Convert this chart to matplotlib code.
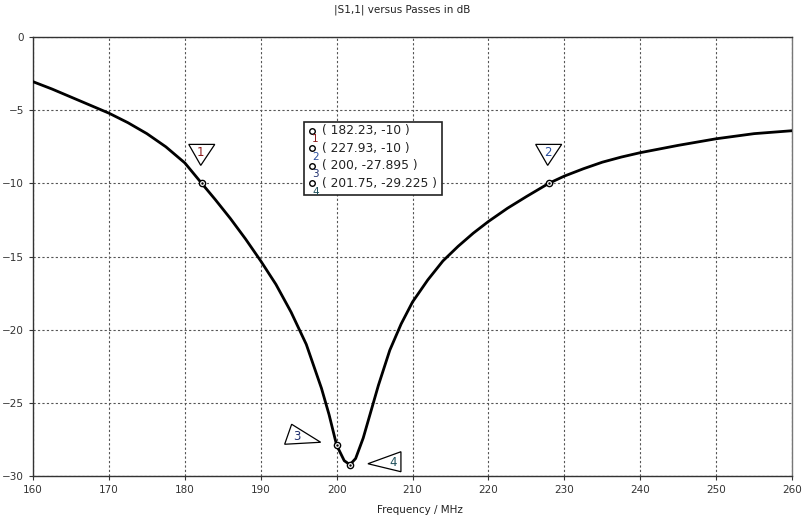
import matplotlib
matplotlib.use("Agg")
import matplotlib.pyplot as plt
import matplotlib.transforms as mtransforms
from matplotlib.patches import Polygon

# S11 sweep, MHz / dB
freq = [160, 162.5, 165, 167.5, 170, 172.5, 175, 177.5, 180, 182.23, 184, 186,
        188, 190, 192, 194, 196, 198, 199, 200, 201, 201.75, 202.5, 203.5,
        204.5, 205.5, 207, 208.5, 210, 212, 214, 216, 218, 220, 222.5, 225,
        227.93, 230, 232.5, 235, 237.5, 240, 245, 250, 255, 260]
s11 = [-3.05, -3.55, -4.1, -4.65, -5.2, -5.85, -6.6, -7.5, -8.6, -10, -11.1,
       -12.4, -13.8, -15.3, -16.9, -18.8, -21.0, -24.0, -25.8, -27.895, -28.95,
       -29.225, -28.8, -27.4, -25.6, -23.8, -21.4, -19.6, -18.1, -16.6, -15.3,
       -14.3, -13.4, -12.6, -11.7, -10.9, -10, -9.5, -9.0, -8.55, -8.2, -7.9,
       -7.4, -6.95, -6.6, -6.4]

# marker readouts
mk_f = [182.23, 227.93, 200, 201.75]
mk_db = [-10, -10, -27.895, -29.225]
mk_names = ["1", "2", "3", "4"]
mk_colors = ["#8b1a1a", "#2a4f9e", "#1f2f6e", "#1e4f5a"]

# triangle outlines around each marker (pixel offsets, y up)
tri_shapes = [
    [(-13, 39), (13, 39), (-1, 18)],
    [(-13, 39), (13, 39), (-1, 18)],
    [(-52, 1), (-45, 21), (-16, 3)],
    [(18, 1), (51, 13), (51, -7)],
]
tri_labels = [(-1, 31), (-1, 31), (-40, 9), (43, 2)]

fig = plt.figure(figsize=(8.05, 5.22), dpi=100)
ax = fig.add_axes([0.041, 0.088, 0.943, 0.841])

ax.plot(freq, s11, color="black", lw=2.0, zorder=3, solid_joinstyle="round")
ax.plot(mk_f, mk_db, "o", ms=4.5, mfc="white", mec="black", mew=1.0, zorder=4)
ax.plot(mk_f, mk_db, ".", ms=1.5, color="black", zorder=5)

ax.set_xlim(160, 260)
ax.set_ylim(-30, 0)
ax.set_xticks(range(160, 261, 10))
ax.set_yticks(range(-30, 1, 5))
ax.grid(True, color="#555555", linestyle=(0, (2, 2)), lw=0.8)
ax.tick_params(labelsize=7.5, length=3, width=0.8, colors="#333333")
for sp in ax.spines.values():
    sp.set_color("#333333")
    sp.set_linewidth(1.0)
ax.spines["right"].set_color("#777777")

for i in range(4):
    tr = fig.dpi_scale_trans + mtransforms.ScaledTranslation(mk_f[i], mk_db[i], ax.transData)
    verts = [(x / 100, y / 100) for x, y in tri_shapes[i]]
    ax.add_patch(Polygon(verts, closed=True, fc="white", ec="black", lw=0.9,
                         transform=tr, zorder=6, clip_on=False))
    lx, ly = tri_labels[i]
    ax.text(lx / 100, ly / 100, mk_names[i], transform=tr, fontsize=8.5,
            color=mk_colors[i], ha="center", va="center", zorder=7)

# readout box
box = plt.Rectangle((0.357, 0.640), 0.182, 0.166, transform=ax.transAxes,
                    fc="white", ec="#222222", lw=1.2, zorder=8)
ax.add_patch(box)
rows = [0.787, 0.747, 0.707, 0.667]
for i in range(4):
    ax.plot([0.368], [rows[i]], "o", ms=4, mfc="white", mec="black", mew=1.0,
            transform=ax.transAxes, zorder=9)
    ax.text(0.372, rows[i] - 0.02, mk_names[i], transform=ax.transAxes,
            fontsize=7.5, color=mk_colors[i], ha="center", va="center", zorder=9)
    ax.text(0.381, rows[i], "( %s, %s )" % (format(mk_f[i], "g"), format(mk_db[i], "g")),
            transform=ax.transAxes, fontsize=8.8, color="#222222",
            ha="left", va="center", zorder=9)

fig.text(0.5, 0.981, "|S1,1| versus Passes in dB", ha="center", va="center",
         fontsize=7.5, color="#222222")
fig.text(0.522, 0.023, "Frequency / MHz", ha="center", va="center",
         fontsize=7.5, color="#222222")

fig.savefig("out.png", dpi=100)
